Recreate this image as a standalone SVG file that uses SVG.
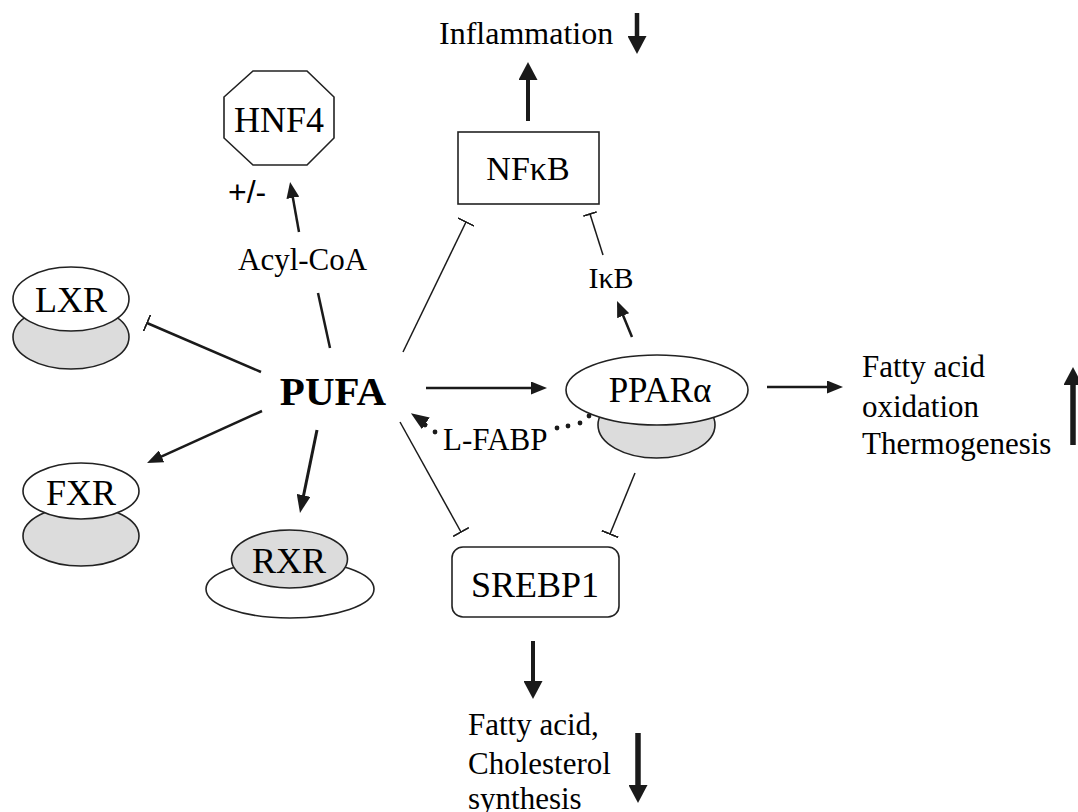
<svg xmlns="http://www.w3.org/2000/svg" width="1078" height="812" viewBox="0 0 1078 812">
<style>
  .t { font-family: "Liberation Serif", "Times New Roman", serif; fill: #000; }
  .n { font-size: 36px; text-anchor: middle; }
  .lbl { font-size: 31px; }
  .w { fill: #fff; stroke: #222; stroke-width: 1.6; }
  .g { fill: #dcdcdc; stroke: #222; stroke-width: 1.6; }
  .c { fill: none; stroke: #1a1a1a; stroke-linecap: butt; }
  .thin { stroke-width: 1.5; }
  .med { stroke-width: 2.5; }
  .dot { fill: #1a1a1a; }
</style>
<defs>
  <marker id="arr" viewBox="0 0 16 13" markerWidth="16" markerHeight="13" refX="1" refY="6.5" orient="auto" markerUnits="userSpaceOnUse">
    <path d="M0,0 L16,6.5 L0,13 z" fill="#1a1a1a"/>
  </marker>
  <marker id="arrL" viewBox="0 0 18 14" markerWidth="18" markerHeight="14" refX="1" refY="7" orient="auto" markerUnits="userSpaceOnUse">
    <path d="M0,0 L18,7 L0,14 z" fill="#1a1a1a"/>
  </marker>
  <marker id="big" viewBox="0 0 18 19" markerWidth="18" markerHeight="19" refX="1" refY="9.5" orient="auto" markerUnits="userSpaceOnUse">
    <path d="M0,0 L18,9.5 L0,19 z" fill="#1a1a1a"/>
  </marker>
  <marker id="bar" viewBox="-1 -9 2 18" markerWidth="2" markerHeight="18" refX="0" refY="0" orient="auto" markerUnits="userSpaceOnUse">
    <path d="M0,-9 L0,9" stroke="#1a1a1a" stroke-width="1.8"/>
  </marker>
  <marker id="barS" viewBox="-1 -7 2 14" markerWidth="2" markerHeight="14" refX="0" refY="0" orient="auto" markerUnits="userSpaceOnUse">
    <path d="M0,-7 L0,7" stroke="#1a1a1a" stroke-width="1.6"/>
  </marker>
</defs>

<g id="connectors">
  <line class="c" x1="528" y1="121" x2="528" y2="79" stroke-width="4" marker-end="url(#big)"/>
  <line class="c" x1="637" y1="13" x2="637" y2="37" stroke-width="4.5" marker-end="url(#big)"/>
  <line class="c" x1="533" y1="641" x2="533" y2="682" stroke-width="4" marker-end="url(#big)"/>
  <line class="c" x1="638" y1="733" x2="638" y2="786" stroke-width="5.5" marker-end="url(#big)"/>
  <line class="c" x1="1073" y1="445" x2="1073" y2="384" stroke-width="5.5" marker-end="url(#big)"/>
  <line class="c med" x1="299" y1="232" x2="292.7" y2="196.8" marker-end="url(#arr)"/>
  <line class="c med" x1="318" y1="293" x2="330" y2="348"/>
  <line class="c med" x1="262" y1="411" x2="160.7" y2="456.8" marker-end="url(#arr)"/>
  <line class="c" x1="317" y1="430" x2="303.4" y2="496.3" stroke-width="3" marker-end="url(#arrL)"/>
  <line class="c med" x1="426" y1="388" x2="532" y2="388" marker-end="url(#arr)"/>
  <line class="c med" x1="767" y1="387" x2="828" y2="387" marker-end="url(#arr)"/>
  <line class="c med" x1="632" y1="337" x2="622.8" y2="314.8" marker-end="url(#arr)"/>
  <line class="c med" x1="261" y1="372" x2="147" y2="323" marker-end="url(#bar)"/>
  <line class="c thin" x1="403" y1="352" x2="466" y2="222" marker-end="url(#bar)"/>
  <line class="c thin" x1="603" y1="255" x2="590" y2="214" marker-end="url(#barS)"/>
  <line class="c thin" x1="400" y1="422" x2="461" y2="532" marker-end="url(#bar)"/>
  <line class="c thin" x1="635" y1="473" x2="610" y2="534" marker-end="url(#bar)"/>
  <g id="lfabp-dots">
    <circle class="dot" cx="589" cy="416" r="2.4"/>
    <circle class="dot" cx="580" cy="423" r="2.4"/>
    <circle class="dot" cx="568" cy="426" r="2.4"/>
    <circle class="dot" cx="557" cy="428" r="2.4"/>
    <circle class="dot" cx="435" cy="432" r="2.4"/>
    <circle class="dot" cx="425" cy="425" r="2.4"/>
  </g>
  <line class="c" x1="427.5" y1="424.5" x2="425" y2="422.8" stroke-width="1" marker-end="url(#arrL)"/>
</g>

<g id="inflammation">
  <text class="t" x="439" y="44" font-size="32">Inflammation</text>
</g>

<g id="hnf4">
  <polygon class="w" points="253,71 307,71 334,97 334,138 307,165 253,165 224,138 224,97"/>
  <text class="t n" x="279" y="132">HNF4</text>
</g>

<g id="plusminus">
  <text x="228" y="203" font-family="Liberation Sans, Arial, sans-serif" font-size="32">+/-</text>
</g>

<g id="acylcoa">
  <text class="t" x="238" y="270" font-size="31">Acyl-CoA</text>
</g>

<g id="nfkb">
  <rect class="w" x="458" y="132" width="141" height="72"/>
  <text class="t" x="528" y="180" font-size="34" text-anchor="middle">NFκB</text>
</g>

<g id="ikb">
  <text class="t" x="611" y="288" font-size="30" text-anchor="middle">IκB</text>
</g>

<g id="lxr">
  <ellipse class="g" cx="71" cy="337" rx="58" ry="32"/>
  <ellipse class="w" cx="71" cy="299" rx="58" ry="32"/>
  <text class="t n" x="71" y="312">LXR</text>
</g>

<g id="pufa">
  <text class="t" x="333" y="405" font-size="41" font-weight="bold" text-anchor="middle">PUFA</text>
</g>

<g id="fxr">
  <ellipse class="g" cx="81" cy="536" rx="58" ry="30"/>
  <ellipse class="w" cx="81" cy="491" rx="58" ry="28"/>
  <text class="t n" x="81" y="505">FXR</text>
</g>

<g id="rxr">
  <ellipse class="w" cx="290" cy="589" rx="84" ry="29"/>
  <ellipse class="g" cx="289.5" cy="559" rx="58" ry="29"/>
  <text class="t n" x="289" y="573">RXR</text>
</g>

<g id="ppara">
  <ellipse class="g" cx="656.5" cy="425" rx="58.5" ry="33"/>
  <ellipse class="w" cx="657" cy="390" rx="91" ry="35"/>
  <text class="t" x="660" y="402" font-size="35" text-anchor="middle">PPARα</text>
</g>

<g id="lfabp">
  <text class="t" x="443" y="450" font-size="31">L-FABP</text>
</g>

<g id="srebp1">
  <rect class="w" x="452" y="547" width="167" height="70" rx="11"/>
  <text class="t n" x="535" y="597">SREBP1</text>
</g>

<g id="fa-oxidation">
  <text class="t lbl" x="862" y="377">Fatty acid</text>
  <text class="t lbl" x="862" y="417">oxidation</text>
  <text class="t lbl" x="862" y="454">Thermogenesis</text>
</g>

<g id="fa-synthesis">
  <text class="t lbl" x="468" y="735">Fatty acid,</text>
  <text class="t lbl" x="468" y="774">Cholesterol</text>
  <text class="t lbl" x="468" y="809">synthesis</text>
</g>
</svg>
